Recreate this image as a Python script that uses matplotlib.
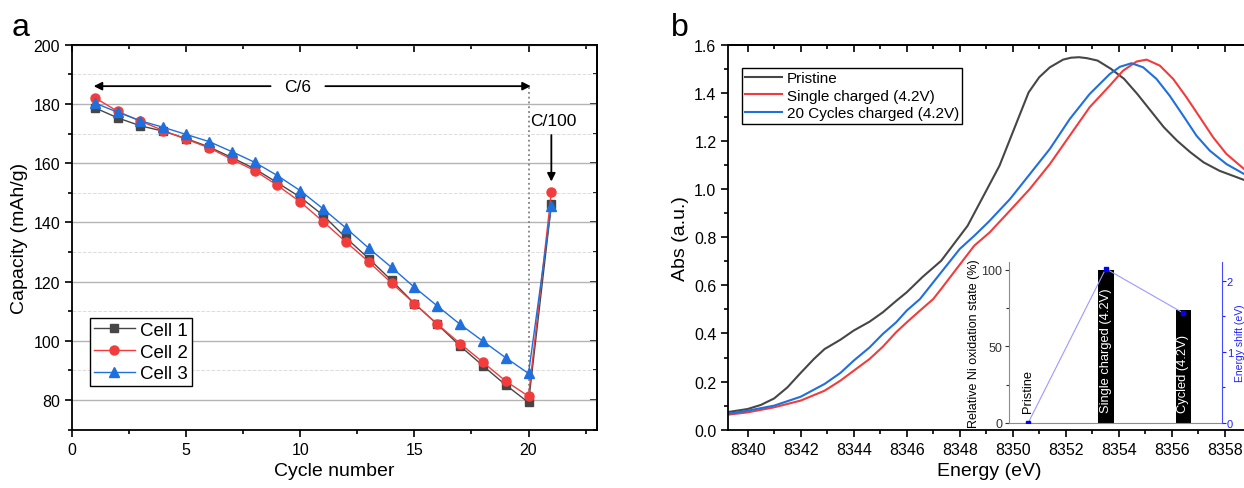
import matplotlib
matplotlib.use('Agg')
import matplotlib.pyplot as plt
from matplotlib.ticker import MultipleLocator, FormatStrFormatter

plt.rcParams['font.family'] = ['Liberation Sans', 'DejaVu Sans']

# ---------------- panel a: capacity vs cycle ----------------
cycles = list(range(1, 22))
cell1 = [178.7, 175.3, 172.6, 170.8, 168.3, 165.5, 161.9, 158.1, 153.4, 148.5, 142.4,
         134.8, 127.8, 120.4, 112.6, 105.6, 98.3, 91.6, 85.1, 79.2, 146.1]
cell2 = [182.1, 177.5, 174.2, 171.0, 168.1, 165.2, 161.3, 157.5, 152.5, 146.9, 140.3,
         133.4, 126.7, 119.5, 112.6, 105.7, 99.1, 92.8, 86.4, 81.3, 150.1]
cell3 = [180.3, 177.2, 174.3, 172.1, 169.7, 167.3, 163.9, 160.3, 155.8, 150.7, 144.6,
         138.1, 131.3, 124.8, 118.1, 111.8, 105.6, 99.9, 94.3, 89.0, 145.4]

# ---------------- panel b: XANES spectra ----------------
e_pristine = [8339.3, 8340.0, 8340.5, 8341.0, 8341.5, 8342.0, 8342.5, 8342.9, 8343.5, 8344.0,
              8344.6, 8345.1, 8345.6, 8346.0, 8346.6, 8347.3, 8348.3, 8348.7, 8349.1, 8349.5,
              8349.9, 8350.3, 8350.6, 8351.0, 8351.4, 8351.9, 8352.2, 8352.5, 8352.8, 8353.2,
              8353.7, 8354.2, 8354.7, 8355.2, 8355.7, 8356.2, 8356.7, 8357.2, 8357.8, 8358.7,
              8359.0]
a_pristine = [0.074, 0.086, 0.103, 0.130, 0.176, 0.236, 0.294, 0.335, 0.374, 0.412,
              0.449, 0.488, 0.535, 0.571, 0.635, 0.702, 0.848, 0.931, 1.014, 1.097,
              1.208, 1.319, 1.402, 1.465, 1.506, 1.538, 1.546, 1.548, 1.544, 1.534,
              1.500, 1.458, 1.395, 1.326, 1.257, 1.201, 1.153, 1.111, 1.076, 1.039,
              1.030]

e_single = [8339.3, 8340.0, 8341.0, 8342.0, 8342.9, 8343.5, 8344.0, 8344.6, 8345.1, 8345.6,
            8346.0, 8346.5, 8347.0, 8347.3, 8348.55, 8349.13, 8349.89, 8350.64, 8351.4, 8352.15,
            8352.9, 8353.66, 8354.16, 8354.67, 8355.05, 8355.55, 8356.05, 8356.55, 8357.06,
            8357.56, 8358.06, 8358.72, 8359.0]
a_single = [0.063, 0.072, 0.093, 0.121, 0.162, 0.204, 0.245, 0.294, 0.345, 0.405,
            0.446, 0.495, 0.543, 0.585, 0.765, 0.820, 0.910, 1.000, 1.104, 1.222,
            1.340, 1.430, 1.492, 1.530, 1.538, 1.513, 1.458, 1.382, 1.298,
            1.215, 1.146, 1.084, 1.070]

e_cycled = [8339.3, 8340.0, 8341.0, 8342.0, 8342.9, 8343.5, 8344.0, 8344.6, 8345.1, 8345.6,
            8346.0, 8346.5, 8347.3, 8348.0, 8348.55, 8349.1, 8349.9, 8350.6, 8351.4, 8352.15,
            8352.9, 8353.66, 8354.04, 8354.48, 8354.92, 8355.42, 8355.92, 8356.43, 8356.93,
            8357.43, 8358.06, 8358.72, 8359.0]
a_cycled = [0.067, 0.079, 0.100, 0.137, 0.190, 0.236, 0.287, 0.342, 0.398, 0.446,
            0.495, 0.543, 0.654, 0.751, 0.806, 0.865, 0.959, 1.056, 1.167, 1.291,
            1.395, 1.478, 1.508, 1.523, 1.506, 1.458, 1.388, 1.305, 1.222,
            1.160, 1.104, 1.063, 1.050]

# ---------------- inset ----------------
inset_labels = ['Pristine', 'Single charged (4.2V)', 'Cycled (4.2V)']
ni_state = [0, 100, 74]
e_shift = [0, 2.17, 1.545]

c_grey = '#464646'
c_red = '#f23c3c'
c_blue = '#1f6fdc'


def style_axes(a, xmaj, xmin, ymaj, ymin):
    # Origin-like: left/bottom ticks out, top/right ticks in
    a.xaxis.set_major_locator(MultipleLocator(xmaj))
    a.xaxis.set_minor_locator(MultipleLocator(xmin))
    a.yaxis.set_major_locator(MultipleLocator(ymaj))
    a.yaxis.set_minor_locator(MultipleLocator(ymin))
    a.tick_params(which='both', direction='out', labelsize=11.5, width=1.2)
    a.tick_params(which='major', length=5)
    a.tick_params(which='minor', length=3)
    for sp in a.spines.values():
        sp.set_linewidth(1.3)
    top = a.secondary_xaxis('top')
    top.xaxis.set_major_locator(MultipleLocator(xmaj))
    top.xaxis.set_minor_locator(MultipleLocator(xmin))
    top.tick_params(which='both', direction='in', labeltop=False, width=1.2)
    top.tick_params(which='major', length=5)
    top.tick_params(which='minor', length=3)
    top.spines['top'].set_linewidth(1.3)
    return top


fig = plt.figure(figsize=(12.44, 4.89), dpi=100)

# ===== panel a =====
ax = fig.add_axes([72 / 1244, 1 - 430.7 / 489, 525 / 1244, 385 / 489])
ax.plot(cycles, cell1, '-s', color=c_grey, lw=1.0, ms=5.5, label='Cell 1')
ax.plot(cycles, cell2, '-o', color=c_red, lw=1.0, ms=6.5, label='Cell 2')
ax.plot(cycles, cell3, '-^', color=c_blue, lw=1.0, ms=7, label='Cell 3')
ax.set_xlim(0, 23)
ax.set_ylim(70, 200)
style_axes(ax, 5, 2.5, 20, 10)
ax.set_yticks([80, 100, 120, 140, 160, 180, 200])
right = ax.secondary_yaxis('right')
right.yaxis.set_major_locator(MultipleLocator(20))
right.yaxis.set_minor_locator(MultipleLocator(10))
right.tick_params(which='both', direction='in', labelright=False, width=1.2)
right.tick_params(which='major', length=5)
right.tick_params(which='minor', length=3)
right.spines['right'].set_linewidth(1.3)
ax.grid(True, which='major', axis='y', color='#b4b4b4', lw=1.0)
ax.grid(True, which='minor', axis='y', color='#dcdcdc', lw=0.7, ls='--')
ax.set_axisbelow(True)
ax.set_xlabel('Cycle number', fontsize=14)
ax.set_ylabel('Capacity (mAh/g)', fontsize=14)

ax.plot([20, 20], [80, 186], ls=':', color='#808080', lw=1.3, zorder=1)
ax.annotate('', xy=(0.95, 186), xytext=(8.7, 186),
            arrowprops=dict(arrowstyle='-|>', color='black', lw=1.3,
                            mutation_scale=12, shrinkA=0, shrinkB=0))
ax.annotate('', xy=(20.1, 186), xytext=(11.1, 186),
            arrowprops=dict(arrowstyle='-|>', color='black', lw=1.3,
                            mutation_scale=12, shrinkA=0, shrinkB=0))
ax.text(9.87, 186, 'C/6', fontsize=12.5, ha='center', va='center')
ax.text(21.1, 174.5, 'C/100', fontsize=12.5, ha='center', va='center')
ax.annotate('', xy=(21.0, 153.8), xytext=(21.0, 169.5),
            arrowprops=dict(arrowstyle='-|>', color='black', lw=1.3,
                            mutation_scale=12, shrinkA=0, shrinkB=0))

leg = ax.legend(loc='lower left', bbox_to_anchor=(0.034, 0.113), fontsize=13.5,
                fancybox=False, edgecolor='black', framealpha=1, borderpad=0.2,
                labelspacing=0.25, handlelength=2.2, handletextpad=0.3, borderaxespad=0)
leg.get_frame().set_linewidth(1.0)

fig.text(12 / 1244, 1 - 36 / 489, 'a', fontsize=23)

# ===== panel b =====
bx = fig.add_axes([728.3 / 1244, 1 - 430.7 / 489, (1250 - 728.3) / 1244, 385 / 489])
bx.plot(e_pristine, a_pristine, color=c_grey, lw=1.5, label='Pristine')
bx.plot(e_single, a_single, color=c_red, lw=1.5, label='Single charged (4.2V)')
bx.plot(e_cycled, a_cycled, color=c_blue, lw=1.5, label='20 Cycles charged (4.2V)')
bx.set_xlim(8339.27, 8358.95)
bx.set_ylim(0, 1.6)
style_axes(bx, 2, 1, 0.2, 0.1)
bx.yaxis.set_major_formatter(FormatStrFormatter('%.1f'))
bx.spines['right'].set_visible(False)
bx.set_xlabel('Energy (eV)', fontsize=14)
bx.set_ylabel('Abs (a.u.)', fontsize=14)
leg2 = bx.legend(loc='upper left', bbox_to_anchor=(0.027, 0.94), fontsize=11,
                 fancybox=False, edgecolor='black', framealpha=1, borderpad=0.2,
                 labelspacing=0.25, handlelength=2.4, handletextpad=0.3, borderaxespad=0)
leg2.get_frame().set_linewidth(1.0)

fig.text(671 / 1244, 1 - 36 / 489, 'b', fontsize=23)

# ===== inset =====
ix = fig.add_axes([1009 / 1244, 1 - 423.7 / 489, 213 / 1244, 160.4 / 489])
ix.patch.set_alpha(0)
pos = [1, 2, 3]
ix.bar(pos, ni_state, width=0.2, color='black')
ix.set_xlim(0.751, 3.5)
ix.set_ylim(0, 105)
ix.set_xticks([])
ix.set_yticks([0, 50, 100])
ix.yaxis.set_minor_locator(MultipleLocator(25))
ix.tick_params(axis='y', which='both', labelsize=9, colors='#333333', length=3, width=0.8, pad=2)
ix.tick_params(axis='y', which='minor', length=2)
ix.spines['top'].set_visible(False)
ix.spines['right'].set_visible(False)
ix.spines['left'].set_color('#8c8c8c')
ix.spines['bottom'].set_color('#8c8c8c')
ix.set_ylabel('Relative Ni oxidation state (%)', fontsize=9, labelpad=1)
ix.text(1, 7, inset_labels[0], rotation=90, ha='center', va='bottom', fontsize=9.3, color='black')
ix.text(2, 7, inset_labels[1], rotation=90, ha='center', va='bottom', fontsize=9.3, color='white')
ix.text(3, 7, inset_labels[2], rotation=90, ha='center', va='bottom', fontsize=9.3, color='white')

ix2 = ix.twinx()
ix2.plot(pos, e_shift, '-s', color='#9a9aff', lw=0.8, ms=3, mfc='#0000ff', mec='#0000ff')
ix2.set_ylim(0, 2.26)
ix2.set_yticks([0, 1, 2])
ix2.yaxis.set_minor_locator(MultipleLocator(0.5))
ix2.tick_params(axis='y', which='both', labelsize=8, colors='#2020ff', length=3, width=0.8, pad=0.5)
ix2.tick_params(axis='y', which='minor', length=2)
for s in ['top', 'left', 'bottom']:
    ix2.spines[s].set_visible(False)
ix2.spines['right'].set_color('#4848ff')
ix2.set_ylabel('Energy shift (eV)', fontsize=7.5, color='#2020ff')
ix2.yaxis.set_label_coords(1.062, 0.5)

fig.savefig('out.png', dpi=100)
